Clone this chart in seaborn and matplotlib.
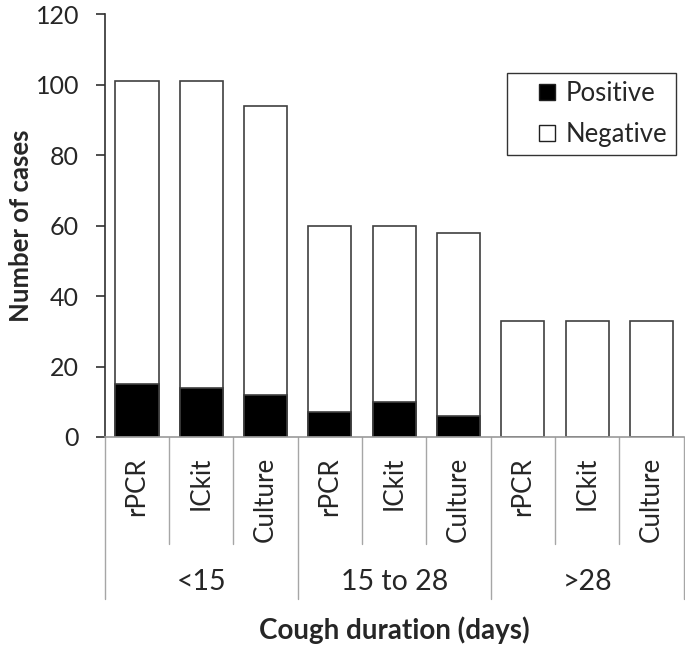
import numpy as np
import pandas as pd
import matplotlib
matplotlib.use('Agg')
import matplotlib.pyplot as plt
import matplotlib.transforms as mtransforms
from matplotlib.lines import Line2D
import seaborn as sns

# Data
groups = ['<15', '15 to 28', '>28']
methods = ['rPCR', 'ICkit', 'Culture']
totals = [101, 101, 94, 60, 60, 58, 33, 33, 33]
positives = [15, 14, 12, 7, 10, 6, 0, 0, 0]

rows = []
for gi, g in enumerate(groups):
    for mi, m in enumerate(methods):
        k = gi * len(methods) + mi
        rows.append({'slot': f'{g}|{m}', 'group': g, 'method': m,
                     'total': totals[k], 'positive': positives[k]})
df = pd.DataFrame(rows)

sns.set_style('white')
plt.rcParams['font.family'] = ['Lato', 'DejaVu Sans']

fig = plt.figure(figsize=(6.85, 6.45), dpi=100)
ax = fig.add_axes([0.153, 0.3225, 0.845, 0.6555])

edge = '#404040'
sns.barplot(data=df, x='slot', y='total', color='white', edgecolor=edge,
            linewidth=1.2, width=0.67, ax=ax, order=df['slot'])
sns.barplot(data=df, x='slot', y='positive', color='black', edgecolor=edge,
            linewidth=1.2, width=0.67, ax=ax, order=df['slot'])

n = len(df)
ax.set_xlim(-0.5, n - 0.5)
ax.set_ylim(0, 120)
ax.set_yticks(np.arange(0, 121, 20))
ax.tick_params(axis='y', labelsize=18, length=6.5, width=1.2, color='#303030',
               direction='out', left=True, pad=12)
ax.set_xticks(range(n))
ax.set_xticklabels([])
ax.tick_params(axis='x', length=0)

sns.despine(ax=ax, top=True, right=True)
ax.spines['left'].set_color('#303030')
ax.spines['left'].set_linewidth(1.2)
ax.spines['bottom'].set_color('#9a9a9a')
ax.spines['bottom'].set_linewidth(1.2)

ax.set_xlabel('')
ax.set_ylabel('Number of cases', fontsize=18.5, fontweight='bold', labelpad=2)

# category table below the axis
trans = mtransforms.blended_transform_factory(ax.transData, ax.transAxes)
ax_h = 423.0  # axis height in pixels
inner_drop = -(544 - 437) / ax_h
group_drop = -(599 - 437) / ax_h
for b in range(n + 1):
    x = b - 0.5
    y_end = group_drop if b % len(methods) == 0 else inner_drop
    ax.plot([x, x], [0, y_end], color='#a6a6a6', lw=1.0, transform=trans,
            clip_on=False)

for i, m in enumerate(df['method']):
    ax.text(i, -(457 - 437) / ax_h, m, transform=trans, rotation=90,
            ha='center', va='top', fontsize=18.7)

for gi, g in enumerate(groups):
    xc = gi * len(methods) + (len(methods) - 1) / 2
    ax.text(xc, -(582 - 437) / ax_h, g, transform=trans, ha='center',
            va='center', fontsize=20.5)

ax.text(0.5, -(630 - 437) / ax_h, 'Cough duration (days)', transform=ax.transAxes,
        ha='center', va='center', fontsize=20, fontweight='bold')

handles = [Line2D([], [], ls='none', marker='s', markersize=11.5,
                  markerfacecolor='black', markeredgecolor='#202020',
                  markeredgewidth=1.0, label='Positive'),
           Line2D([], [], ls='none', marker='s', markersize=11.5,
                  markerfacecolor='white', markeredgecolor='#202020',
                  markeredgewidth=1.0, label='Negative')]
leg = ax.legend(handles=handles, loc='upper right', bbox_to_anchor=(0.986, 0.861),
                fontsize=18.5, frameon=True, fancybox=False, edgecolor='black',
                handlelength=2.5, borderpad=0.33, labelspacing=0.6,
                handletextpad=-0.55, borderaxespad=0)
leg.get_frame().set_linewidth(1.0)

fig.savefig('out.png', dpi=100)
